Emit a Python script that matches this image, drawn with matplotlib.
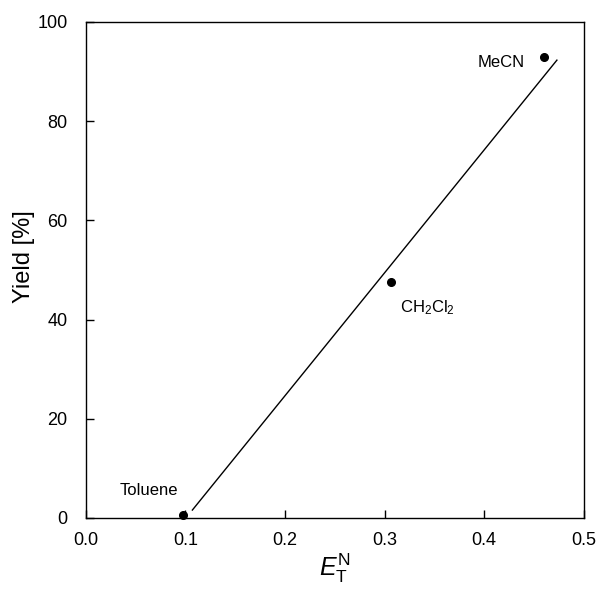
import numpy as np
import matplotlib.pyplot as plt

plt.rcParams['font.family'] = ['Liberation Sans', 'DejaVu Sans']
plt.rcParams['mathtext.fontset'] = 'custom'
plt.rcParams['mathtext.rm'] = 'Liberation Sans'
plt.rcParams['mathtext.it'] = 'Liberation Sans:italic'

# data
solvents = ['Toluene', 'CH$_2$Cl$_2$', 'MeCN']
et_n = [0.098, 0.306, 0.460]
yields = [0.6, 47.6, 92.9]
# end points of the drawn trend line
fit_x = [0.107, 0.473]
fit_y = [1.6, 92.3]

fig = plt.figure(figsize=(6, 5.93), dpi=100)
ax = fig.add_axes([0.143, 0.1265, 0.830, 0.8365])

ax.plot(fit_x, fit_y, color='black', lw=1)
ax.plot(et_n, yields, 'o', color='black', ms=5.5, clip_on=False, zorder=3)

# labels next to points
ax.text(0.063, 5.5, solvents[0], fontsize=12, ha='center', va='center')
ax.text(0.315, 42.5, solvents[1], fontsize=12, ha='left', va='center')
ax.text(0.441, 91.9, solvents[2], fontsize=12, ha='right', va='center')

ax.set_xlim(0, 0.5)
ax.set_ylim(0, 100)
ax.set_xticks([0.0, 0.1, 0.2, 0.3, 0.4, 0.5])
ax.set_xticklabels(['0.0', '0.1', '0.2', '0.3', '0.4', '0.5'])
ax.set_yticks([0, 20, 40, 60, 80, 100])
ax.tick_params(direction='in', length=6, width=1, labelsize=13, pad=10)
ax.tick_params(axis='y', pad=13)
for s in ax.spines.values():
    s.set_linewidth(1)

ax.set_xlabel(r'$\mathit{E}_{\mathrm{T}}^{\mathrm{N}}$', fontsize=18, labelpad=2)
ax.set_ylabel('Yield [%]', fontsize=17, va='center')
ax.yaxis.set_label_coords(-0.125, 0.526)

fig.savefig('out.png', dpi=100)
